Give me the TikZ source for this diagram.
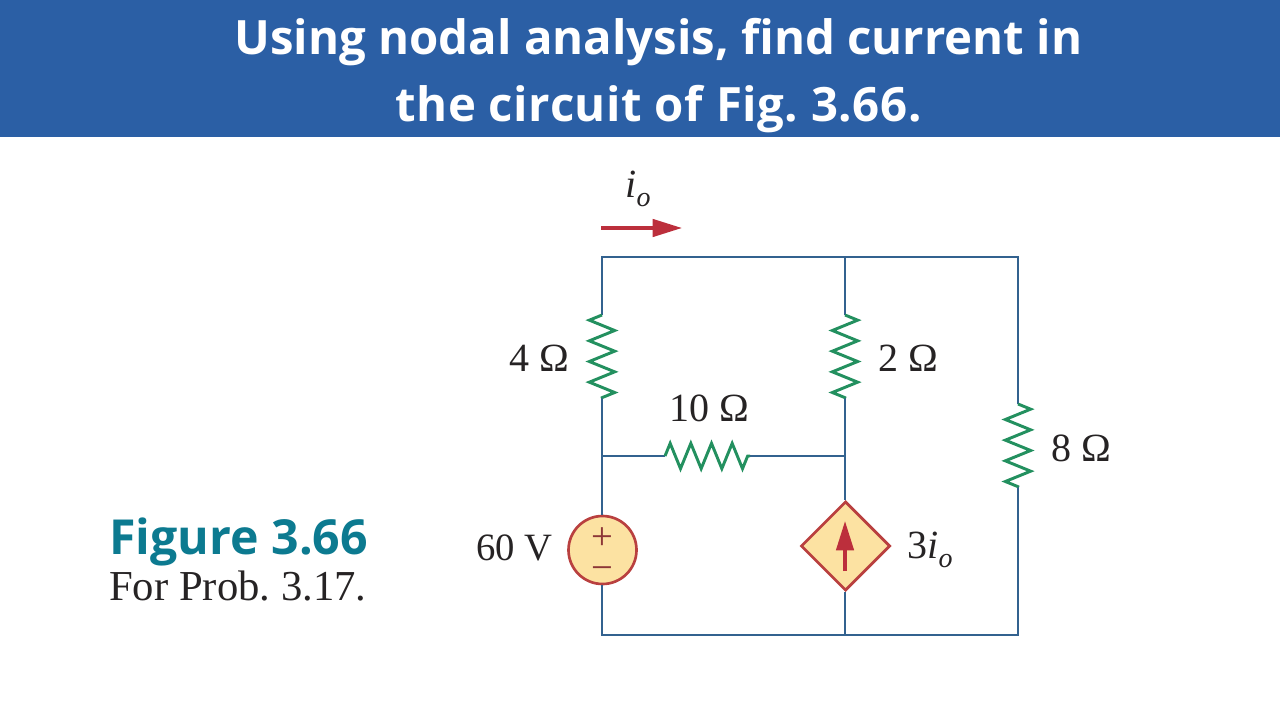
\documentclass[tikz,border=0pt]{standalone}
\usepackage{fontspec}
\setmainfont{Liberation Serif}
\newfontfamily\headfont{Open Sans}
\usetikzlibrary{arrows.meta,shapes.geometric,decorations.pathmorphing}

\definecolor{bannerblue}{HTML}{2B5FA5}
\definecolor{wireblue}{HTML}{33628F}
\definecolor{resgreen}{HTML}{23905F}
\definecolor{srcfill}{HTML}{FCE2A2}
\definecolor{srcred}{HTML}{B9403F}
\definecolor{arrowred}{HTML}{BC2F3C}
\definecolor{figteal}{HTML}{0C7A90}
\definecolor{inkdark}{HTML}{262324}

\newcommand{\iosub}{\textit{i}\raisebox{-0.22em}{\fontsize{21}{21}\selectfont\textit{o}}}
\frenchspacing

\tikzset{
  wire/.style={draw=wireblue, line width=2.2pt},
  resup/.style={draw=resgreen, line width=2.2pt, decorate,
    decoration={zigzag, amplitude=9.5pt, segment length=15.5pt}},
  resdown/.style={resup, decoration={mirror}},
  lbl/.style={text=inkdark, inner sep=0pt, font=\fontsize{30}{30}\selectfont},
  srcsym/.style={text=srcred!70!inkdark, inner sep=0pt, text height=14pt, text depth=0pt, font=\fontsize{29}{29}\selectfont},
  flowarrow/.style={draw=arrowred, line width=2.6pt, -{Triangle[length=22pt, width=13pt]}}
}

\begin{document}
\begin{tikzpicture}[x=0.75pt, y=-0.75pt]
  \useasboundingbox (0,0) rectangle (1280,720);

  % Banner and heading
  \fill[bannerblue] (0,0) rectangle (1280,137);
  \node[text=white, align=center, inner sep=0pt,
    font=\headfont\bfseries\fontsize{35.5}{50.2}\selectfont] (title) at (658.5,76)
    {Using nodal analysis, find current in\\{\addfontfeature{LetterSpace=1.2}the circuit of Fig. 3.66.}};

  % Caption on the left
  \node[text=figteal, inner sep=0pt, anchor=base west,
    font=\headfont\bfseries\fontsize{36.2}{36}\selectfont] (figname) at (109,554) {Figure 3.66};
  \node[text=inkdark, inner sep=0pt, anchor=base west,
    font=\fontsize{32}{32}\selectfont] (figprob) at (109,600) {For Prob. 3.17.};

  % Corners and junctions
  \coordinate (tl) at (602,257);
  \coordinate (tm) at (845,257);
  \coordinate (tr) at (1018,257);
  \coordinate (bl) at (602,635);
  \coordinate (bm) at (845,635);
  \coordinate (br) at (1018,635);
  \coordinate (nl) at (602,456);
  \coordinate (nm) at (845,456);

  % Resistor ends
  \coordinate (r4a) at (602,315);
  \coordinate (r4b) at (602,398);
  \coordinate (r2a) at (845,315);
  \coordinate (r2b) at (845,398);
  \coordinate (r8a) at (1018,404);
  \coordinate (r8b) at (1018,487);
  \coordinate (r10a) at (665,456);
  \coordinate (r10b) at (750,456);

  % Sources
  \node[circle, draw=srcred, fill=srcfill, line width=2pt, minimum size=51pt, inner sep=0pt] (vs) at (602.5,550) {};
  \node[diamond, draw=srcred, fill=srcfill, line width=2pt, minimum size=67pt, inner sep=0pt] (dep) at (845.5,546) {};
  \node[srcsym] (plus) at (602,540) {+};
  \node[srcsym] (minus) at (602,571) {−};

  % Wires
  \draw[wire] (r4a) -- (tl) -- (tr) -- (r8a);
  \draw[wire] (tm) -- (r2a);
  \draw[wire] (r4b) -- (nl) -- (vs.north -| nl);
  \draw[wire] (r2b) -- (nm) -- (dep.north -| nm);
  \draw[wire] (nl) -- (r10a);
  \draw[wire] (r10b) -- (nm);
  \draw[wire] (vs.south -| bl) -- (bl) -- (br) -- (r8b);
  \draw[wire] (dep.south -| bm) -- (bm);

  % Resistors
  \draw[resdown] (r4a) -- (r4b);
  \draw[resup] (r2a) -- (r2b);
  \draw[resup] (r8a) -- (r8b);
  \draw[resup] (r10a) -- (r10b);

  % Arrows
  \coordinate (ioa) at (601,228);
  \coordinate (iob) at (682,228);
  \draw[flowarrow] (ioa) -- (iob);
  \coordinate (depa) at (845,571);
  \coordinate (depb) at (845,521);
  \draw[flowarrow] (depa) -- (depb);

  % Labels
  \node[lbl] (l4) at (539,358) {4 Ω};
  \node[lbl] (l2) at (908,358) {2 Ω};
  \node[lbl] (l10) at (709,408) {10 Ω};
  \node[lbl] (l8) at (1081,448) {8 Ω};
  \node[lbl, font=\fontsize{29}{29}\selectfont] (l60) at (514.5,548) {60 V};
  \node[lbl] (lio) at (638,189) {\iosub};
  \node[lbl] (ldep) at (930,550) {3\iosub};
\end{tikzpicture}
\end{document}
